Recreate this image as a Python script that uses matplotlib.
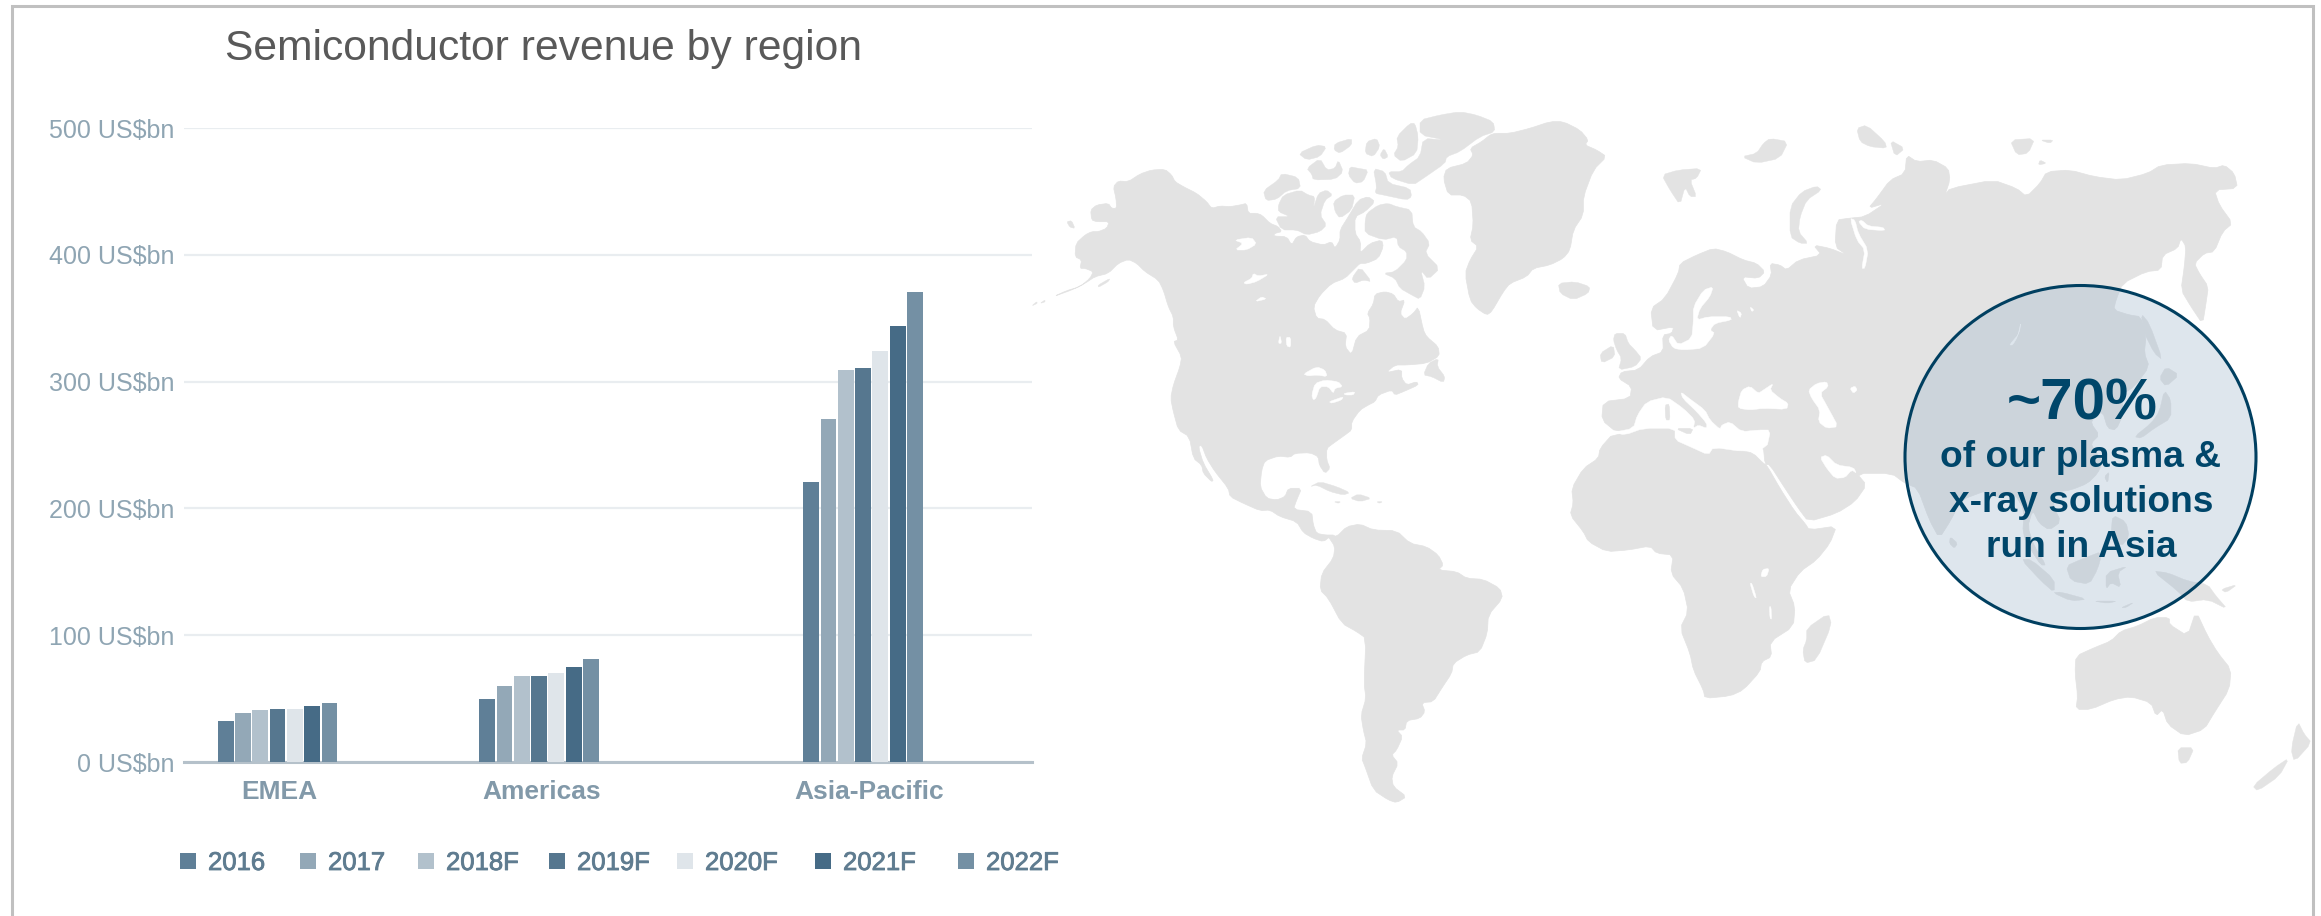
import numpy as np
import matplotlib
matplotlib.use('Agg')
import matplotlib.pyplot as plt
import matplotlib.patheffects as pe
from matplotlib.patches import Polygon, Ellipse, Rectangle

plt.rcParams['font.family'] = ['Liberation Sans', 'DejaVu Sans']

# %% chart data
regions = ['EMEA', 'Americas', 'Asia-Pacific']
years = ['2016', '2017', '2018F', '2019F', '2020F', '2021F', '2022F']
emea = [32.5, 39, 41, 41.5, 42, 44, 46.5]
americas = [50, 60, 68, 68, 70, 75, 81.5]
asia = [221, 270.5, 309, 311, 324, 344, 371]
yticks = [0, 100, 200, 300, 400, 500]
colors = ['#5f7f97', '#93a8b7', '#b2c1cc', '#56778f', '#dfe5ea', '#466b86', '#7490a4']

# layout, in pixels of the 2321x916 picture
group_x = [277.5, 539, 863]
label_x = [279, 542, 869]
legend_x = [180, 300, 418, 549, 677, 815, 958]

# %% map outlines, traced off crops: tile corner + crop coords / 3
def tile(x0, y0, pts):
    a = np.array(pts, dtype=float)
    return np.column_stack([x0 + a[:, 0] / 3, y0 + a[:, 1] / 3])

def na(pts):
    return tile(1030, 100, pts)

def eu(pts):
    return tile(1550, 100, pts)

def ea(pts):
    return tile(1801, 100, pts)

def sa(pts):
    return tile(1250, 500, pts)

def af(pts):
    return tile(1540, 420, pts)

def oc(pts):
    return tile(1921, 516, pts)

def soften(poly):
    # one pass of corner cutting so traced coasts look less angular
    nxt = np.roll(poly, -1, axis=0)
    out = np.empty((len(poly) * 2, 2))
    out[0::2] = 0.8 * poly + 0.2 * nxt
    out[1::2] = 0.2 * poly + 0.8 * nxt
    return out

north_america = na([(70, 590), (110, 572), (150, 560), (180, 535), (190, 515), (165, 505), (150, 505), (155, 480),
    (135, 470), (138, 430), (165, 405), (185, 395), (205, 395), (230, 385), (238, 365), (200, 365), (185, 360),
    (182, 330), (200, 315), (235, 310), (245, 325), (260, 325), (258, 295), (250, 260), (265, 243), (295, 245),
    (330, 222), (365, 210), (405, 208), (425, 225), (435, 245), (460, 260), (500, 280), (530, 305), (545, 325),
    (570, 318), (600, 320), (630, 315), (650, 310), (655, 340), (680, 340), (695, 345), (720, 370), (745, 380),
    (755, 395), (735, 400), (730, 408), (770, 410), (785, 435), (800, 410), (825, 405), (840, 425), (880, 435),
    (905, 425), (915, 445), (930, 420), (930, 390), (955, 350), (985, 300), (1015, 290), (1035, 305), (1005, 335),
    (975, 350), (975, 400), (992, 425), (990, 460), (1020, 430), (1055, 420), (1060, 440), (1045, 475), (1010, 490),
    (990, 490), (975, 505), (945, 535), (905, 550), (870, 585), (850, 620), (860, 655), (885, 658), (915, 690),
    (950, 700), (945, 740), (965, 765), (980, 710), (1018, 690), (1020, 655), (1012, 640), (1030, 612), (1035, 582),
    (1065, 575), (1090, 582), (1105, 605), (1125, 600), (1110, 640), (1125, 658), (1150, 640), (1165, 620),
    (1180, 690), (1190, 710), (1225, 740), (1228, 768), (1190, 790), (1130, 795), (1095, 795), (1068, 818),
    (1115, 808), (1115, 835), (1130, 855), (1160, 845), (1165, 855), (1120, 875), (1095, 885), (1085, 870),
    (1045, 885), (1035, 905), (1015, 915), (990, 930), (965, 965), (965, 990), (945, 1005), (910, 1030), (890, 1045),
    (890, 1080), (900, 1105), (885, 1120), (868, 1095), (865, 1070), (840, 1058), (795, 1060), (780, 1072),
    (745, 1068), (705, 1082), (695, 1110), (690, 1160), (710, 1195), (740, 1200), (765, 1190), (775, 1165),
    (815, 1165), (800, 1200), (790, 1228), (845, 1235), (850, 1275), (860, 1300), (885, 1305), (915, 1305),
    (925, 1325), (900, 1310), (880, 1325), (850, 1315), (820, 1298), (800, 1265), (750, 1250), (720, 1230),
    (690, 1232), (640, 1210), (600, 1190), (595, 1165), (555, 1115), (530, 1075), (515, 1035), (505, 1040),
    (520, 1090), (550, 1140), (545, 1145), (520, 1120), (515, 1095), (490, 1075), (478, 1010), (445, 990), (430, 935),
    (422, 895), (430, 855), (450, 800), (455, 770), (430, 725), (445, 720), (430, 680), (430, 650), (415, 620),
    (400, 570), (385, 540), (345, 515), (320, 490), (295, 478), (265, 490), (235, 520), (195, 530), (165, 550),
    (130, 568)])

south_america = sa([(230, 110), (260, 110), (290, 80), (330, 72), (370, 90), (440, 92), (480, 130), (530, 140),
    (565, 165), (580, 195), (565, 210), (620, 215), (650, 235), (700, 238), (750, 265), (758, 295), (715, 345),
    (712, 400), (690, 455), (650, 465), (610, 490), (605, 520), (575, 565), (550, 605), (515, 608), (525, 635),
    (510, 655), (470, 662), (465, 690), (440, 690), (458, 710), (440, 750), (425, 765), (445, 790), (425, 830),
    (430, 860), (470, 890), (440, 908), (415, 900), (370, 870), (345, 800), (335, 775), (350, 730), (340, 690),
    (333, 645), (348, 595), (342, 550), (348, 415), (320, 395), (275, 370), (235, 295), (210, 270), (215, 220),
    (250, 175), (255, 140), (235, 110)])

greenland = np.vstack([
    na([(1380, 105), (1355, 125), (1320, 145), (1330, 165), (1310, 190), (1250, 205), (1240, 235), (1255, 285),
        (1300, 285), (1325, 305), (1330, 375), (1320, 420), (1345, 440), (1320, 480), (1305, 520), (1320, 600),
        (1340, 625), (1370, 645), (1385, 635), (1420, 575), (1440, 550), (1490, 530), (1510, 505), (1560, 495)]),
    eu([(40, 475), (60, 450), (70, 390), (100, 345), (100, 290), (130, 210), (170, 170), (140, 150), (105, 135),
        (115, 120), (90, 90), (40, 65), (0, 65)]),
    na([(1500, 85), (1440, 100), (1395, 100)])])

eurasia = np.vstack([
    eu([(160, 905), (240, 895), (245, 860), (205, 835), (215, 815), (265, 810), (300, 770), (340, 755), (338, 705),
        (365, 700), (372, 680), (310, 692), (302, 625), (345, 595), (385, 520), (390, 490), (440, 465), (490, 445),
        (530, 455), (580, 480), (620, 490), (645, 515), (625, 535), (575, 530), (595, 565), (640, 560), (665, 525),
        (660, 490), (690, 495), (710, 510), (745, 480), (815, 465), (790, 435), (840, 445), (890, 465), (855, 440),
        (860, 360), (895, 355), (945, 350), (1005, 310), (955, 325), (980, 295), (1020, 240), (1065, 220), (1070, 165),
        (1100, 185), (1150, 180), (1195, 205), (1200, 240), (1185, 285), (1200, 265), (1330, 240), (1400, 265),
        (1430, 290), (1470, 250), (1490, 215), (1560, 210)]),
    ea([(880, 230), (960, 240), (1040, 220), (1080, 195), (1170, 190), (1240, 205), (1270, 195), (1300, 220),
        (1310, 265), (1240, 270), (1255, 315), (1295, 370), (1265, 395), (1240, 455), (1210, 460), (1180, 490),
        (1195, 520), (1222, 560), (1215, 610), (1205, 672), (1170, 620), (1140, 570), (1150, 500), (1155, 440),
        (1140, 415), (1130, 445), (1085, 465), (1080, 510), (1035, 515), (965, 550), (945, 600), (938, 630), (985, 645),
        (1020, 650), (1035, 710), (1030, 760), (1045, 800), (1000, 860), (960, 885), (968, 940), (945, 990), (920, 985),
        (905, 935), (880, 950), (870, 970), (895, 1005), (870, 1030), (880, 1050), (905, 1085), (890, 1120), (860, 1150),
        (810, 1170), (770, 1175), (755, 1215), (780, 1265), (745, 1290), (715, 1270), (695, 1230), (680, 1280),
        (700, 1340), (735, 1395), (720, 1395), (690, 1350), (665, 1300), (670, 1230), (640, 1180), (590, 1195),
        (560, 1170), (480, 1200), (450, 1260), (415, 1315), (385, 1260), (350, 1165)]),
    eu([(1065, 1150), (1025, 1120), (920, 1120), (950, 1155), (915, 1205), (860, 1240), (775, 1265), (745, 1225),
        (705, 1165), (660, 1095), (645, 1092), (640, 1040), (600, 1015), (380, 1015), (380, 1000), (200, 997),
        (155, 960)])])

africa = af([(220, 40), (180, 85), (175, 115), (130, 145), (95, 205), (100, 250), (90, 285), (130, 335), (145, 365),
    (200, 395), (265, 390), (330, 378), (350, 400), (400, 405), (392, 460), (430, 505), (445, 575), (420, 625),
    (450, 700), (460, 750), (490, 810), (495, 835), (570, 828), (610, 810), (660, 755), (665, 725), (695, 710),
    (690, 665), (760, 620), (765, 560), (745, 510), (780, 455), (830, 420), (870, 370), (890, 318), (808, 330),
    (795, 310), (765, 275), (720, 205), (680, 135), (670, 130), (640, 100), (600, 90), (500, 60), (400, 30)])

australia = oc([(465, 420), (520, 395), (570, 375), (600, 345), (650, 330), (700, 305), (745, 305), (745, 325),
    (800, 360), (825, 285), (860, 360), (890, 410), (930, 460), (925, 520), (880, 590), (850, 640), (790, 660),
    (740, 625), (725, 580), (705, 600), (690, 560), (630, 542), (580, 550), (510, 580), (465, 580), (470, 540),
    (462, 470)])

continents = [north_america, south_america, greenland, eurasia, africa, australia]

water = [
    # Mediterranean, Black Sea, Caspian, Aral
    eu([(190, 997), (225, 1005), (280, 985), (375, 985), (375, 1020), (420, 1040), (475, 1065), (490, 1042), (580, 1055),
        (650, 1045), (662, 990), (625, 990), (575, 995), (540, 965), (515, 975), (510, 988), (480, 960), (465, 930),
        (420, 897), (392, 875), (398, 895), (440, 935), (470, 970), (470, 985), (445, 975), (430, 985), (435, 960),
        (400, 925), (350, 890), (290, 905), (262, 945), (250, 985)]),
    eu([(565, 905), (575, 870), (600, 858), (625, 880), (640, 870), (670, 850), (660, 870), (690, 895), (715, 910),
        (710, 928), (640, 925), (600, 930), (565, 925)]),
    eu([(775, 870), (800, 850), (830, 845), (835, 860), (810, 880), (835, 925), (865, 980), (830, 985), (805, 965),
        (810, 930), (785, 895)]),
    eu([(900, 865), (915, 858), (922, 870), (910, 880)]),
    # Persian Gulf, Baltic, Ob, Yenisei, Ladoga, Onega
    eu([(810, 1072), (830, 1065), (860, 1095), (910, 1102), (920, 1120), (905, 1110), (885, 1133), (855, 1135),
        (830, 1105)]),
    eu([(460, 570), (490, 560), (480, 590), (450, 625), (440, 660), (475, 650), (540, 650), (545, 660), (495, 670),
        (480, 690), (495, 700), (460, 745), (400, 750), (370, 745), (355, 720), (365, 705), (385, 735), (425, 715),
        (430, 665), (430, 620)]),
    eu([(900, 355), (920, 420), (945, 450), (935, 505), (945, 505), (955, 450), (925, 400), (915, 360)]),
    eu([(925, 365), (945, 388), (1005, 392), (1000, 382), (955, 378), (935, 360)]),
    eu([(560, 630), (575, 640), (570, 655)]),
    eu([(600, 620), (612, 630), (605, 635)]),
    # Baikal
    ea([(625, 735), (655, 700), (660, 665), (650, 710), (635, 735)]),
    # African lakes
    af([(662, 470), (668, 448), (688, 445), (680, 470)]),
    af([(630, 490), (636, 490), (650, 535), (642, 530)]),
    af([(688, 560), (693, 560), (695, 598), (690, 595)]),
    # North American lakes and Foxe Basin
    na([(820, 822), (860, 800), (885, 810), (892, 830), (860, 825), (835, 828)]),
    na([(855, 850), (885, 840), (925, 845), (938, 860), (915, 865), (910, 880), (895, 860), (870, 860), (858, 895),
        (850, 900), (845, 885)]),
    na([(897, 905), (940, 890), (935, 900), (905, 910)]),
    na([(942, 880), (975, 875), (970, 885), (945, 885)]),
    na([(612, 420), (665, 412), (680, 432), (650, 450), (615, 450), (640, 430)]),
    na([(640, 548), (665, 535), (670, 520), (685, 528), (718, 522), (680, 545), (650, 553)]),
    na([(675, 605), (695, 590), (710, 597)]),
    na([(750, 705), (755, 730), (745, 730)]),
    na([(768, 712), (782, 712), (782, 742), (770, 738)]),
]

islands = [
    # Canadian Arctic
    na([(700, 272), (745, 240), (755, 220), (805, 232), (812, 265), (770, 272), (740, 298), (708, 302)]),
    na([(745, 315), (760, 285), (810, 270), (835, 285), (855, 290), (850, 325), (865, 280), (890, 270), (908, 285),
        (885, 300), (870, 345), (890, 375), (870, 395), (830, 405), (800, 390), (755, 390), (735, 350), (780, 350),
        (745, 335)]),
    na([(805, 160), (860, 135), (890, 140), (870, 170), (830, 180)]),
    na([(830, 205), (870, 175), (890, 210), (915, 205), (925, 180), (940, 215), (915, 238), (850, 240), (845, 222)]),
    na([(915, 130), (965, 115), (965, 135), (930, 160), (912, 150)]),
    na([(1170, 60), (1230, 45), (1290, 35), (1340, 45), (1390, 65), (1395, 95), (1350, 110), (1290, 155), (1250, 170),
        (1245, 190), (1180, 235), (1150, 255), (1085, 235), (1075, 215), (1115, 215), (1135, 195), (1170, 170),
        (1180, 115), (1245, 120), (1170, 105)]),
    na([(1100, 110), (1140, 70), (1155, 70), (1165, 110), (1160, 160), (1115, 185), (1090, 165), (1105, 140)]),
    na([(1010, 125), (1040, 115), (1050, 140), (1030, 170), (1005, 160)]),
    na([(1050, 165), (1062, 145), (1075, 170), (1060, 178)]),
    na([(960, 200), (985, 205), (1015, 210), (1000, 245), (975, 250), (955, 225)]),
    na([(1040, 260), (1030, 205), (1065, 215), (1075, 250), (1140, 265), (1145, 290), (1130, 300), (1060, 285),
        (1035, 280)]),
    na([(910, 305), (940, 285), (975, 285), (965, 330), (930, 355), (915, 335)]),
    na([(1005, 365), (1010, 340), (1045, 315), (1075, 310), (1100, 320), (1145, 330), (1150, 380), (1175, 395),
        (1200, 430), (1185, 460), (1230, 505), (1195, 538), (1172, 510), (1185, 560), (1170, 598), (1145, 585),
        (1110, 565), (1095, 535), (1060, 520), (1095, 515), (1130, 480), (1130, 455), (1105, 440), (1100, 410),
        (1060, 420), (1005, 400)]),
    na([(965, 535), (990, 500), (1025, 545), (1000, 540), (975, 550)]),
    # Newfoundland, Caribbean, Alaska
    na([(1180, 825), (1195, 790), (1225, 775), (1222, 800), (1245, 830), (1240, 848), (1205, 830)]),
    na([(840, 1160), (870, 1145), (920, 1160), (960, 1178), (940, 1185), (900, 1175), (860, 1155)]),
    na([(960, 1195), (985, 1182), (1025, 1195), (990, 1205)]),
    na([(912, 1205), (932, 1205), (925, 1210)]),
    na([(1040, 1205), (1058, 1205), (1048, 1210)]),
    na([(5, 618), (20, 605), (22, 610)]),
    na([(30, 610), (45, 600), (45, 606)]),
    na([(110, 365), (125, 362), (135, 385), (120, 382)]),
    na([(205, 555), (240, 535), (235, 545), (205, 562)]),
    # Europe and the Arctic
    eu([(195, 700), (225, 700), (235, 730), (255, 750), (275, 775), (255, 800), (205, 810), (215, 775), (200, 750),
        (190, 720)]),
    eu([(150, 760), (190, 735), (195, 770), (155, 790)]),
    eu([(25, 550), (75, 545), (120, 560), (115, 580), (70, 600), (30, 580)]),
    eu([(335, 225), (385, 210), (455, 205), (440, 235), (420, 240), (440, 290), (420, 290), (405, 260), (390, 315),
        (360, 270)]),
    eu([(575, 170), (620, 160), (640, 130), (660, 115), (715, 125), (690, 175), (620, 190)]),
    eu([(720, 410), (720, 320), (755, 275), (800, 258), (815, 270), (770, 300), (750, 350), (745, 395), (775, 430),
        (750, 430)]),
    eu([(920, 85), (950, 75), (1005, 125), (1010, 145), (960, 140), (930, 125)]),
    eu([(1020, 120), (1065, 145), (1035, 170)]),
    eu([(1380, 120), (1455, 115), (1435, 160), (1400, 165)]),
    eu([(1470, 120), (1510, 120), (1500, 130)]),
    eu([(1470, 180), (1490, 190), (1465, 195)]),
    eu([(345, 915), (358, 912), (360, 960), (347, 960)]),
    eu([(375, 985), (430, 985), (420, 1005)]),
    # Japan and neighbours
    ea([(1020, 640), (1045, 670), (1085, 780), (1060, 760), (1030, 700)]),
    ea([(1075, 835), (1095, 800), (1135, 825), (1095, 860)]),
    ea([(1000, 1010), (1050, 970), (1075, 935), (1090, 870), (1110, 900), (1110, 955), (1060, 985), (1020, 1015)]),
    ea([(910, 1130), (925, 1115), (920, 1150)]),
    ea([(935, 1245), (975, 1265), (985, 1310), (960, 1340), (930, 1300)]),
    ea([(448, 1310), (470, 1330), (460, 1345), (445, 1330)]),
    # Indonesia, New Guinea, Oceania
    oc([(435, 150), (480, 130), (545, 105), (530, 160), (505, 205), (450, 195)]),
    oc([(555, 170), (620, 150), (590, 170), (600, 215), (570, 200), (555, 220)]),
    oc([(300, 130), (330, 130), (400, 190), (400, 230), (360, 195)]),
    oc([(395, 230), (420, 228), (500, 250), (450, 255)]),
    oc([(515, 255), (590, 255), (560, 262)]),
    oc([(600, 275), (640, 258), (615, 275)]),
    oc([(695, 165), (740, 170), (800, 195), (860, 205), (885, 240), (920, 280), (860, 250), (800, 258), (770, 225)]),
    oc([(900, 220), (950, 205), (915, 230)]),
    oc([(770, 695), (820, 695), (800, 740), (775, 742)]),
    oc([(1130, 615), (1150, 655), (1172, 680), (1120, 738), (1110, 700)]),
    oc([(995, 810), (1060, 755), (1105, 725), (1075, 780), (1010, 825)]),
    af([(800, 625), (865, 580), (875, 615), (830, 720), (795, 730), (788, 690), (800, 660)]),
]

# %% figure
W, H = 2321, 916
fig = plt.figure(figsize=(W / 100, H / 100), dpi=100, facecolor='white')

# full page axes in picture pixels for map, frame and callout
page = fig.add_axes([0, 0, 1, 1], zorder=0)
page.set_xlim(0, W)
page.set_ylim(H, 0)
page.axis('off')

land = '#e3e3e3'
for poly in continents:
    page.add_patch(Polygon(soften(poly), closed=True, fc=land, ec=land, lw=0.5, zorder=1))
for poly in water:
    page.add_patch(Polygon(soften(poly), closed=True, fc='white', ec='white', lw=0.3, zorder=2))
for poly in islands:
    page.add_patch(Polygon(soften(poly), closed=True, fc=land, ec=land, lw=0.3, zorder=3))

# frame, open at the bottom
page.plot([12, 12, 2313, 2313], [916, 6, 6, 916], color='#c0c0c0', lw=2.2, zorder=4, solid_joinstyle='miter')

# callout
page.add_patch(Ellipse((2080.5, 457), 351, 343, fc=(0.631, 0.722, 0.804, 0.34), ec='#003f60', lw=2.2, zorder=5))
navy = '#00466a'
page.text(2082, 419, '~70%', fontsize=42, fontweight='bold', color=navy, ha='center', va='baseline', zorder=6)
page.text(2081, 467, 'of our plasma &', fontsize=26.7, fontweight='bold', color=navy, ha='center', va='baseline', zorder=6)
page.text(2081, 512.5, 'x-ray solutions', fontsize=26.7, fontweight='bold', color=navy, ha='center', va='baseline', zorder=6)
page.text(2081, 557, 'run in Asia', fontsize=26.7, fontweight='bold', color=navy, ha='center', va='baseline', zorder=6)

page.text(225, 60, 'Semiconductor revenue by region', fontsize=30.7, color='#595959', ha='left', va='baseline', zorder=6)

# bar chart
left, right, top, bottom = 184, 1032, 128, 762
ax = fig.add_axes([left / W, 1 - bottom / H, (right - left) / W, (bottom - top) / H], zorder=1)
ax.patch.set_alpha(0)
ax.set_xlim(left, right)
ax.set_ylim(0, 500)

pitch = 17.3
values = np.array([emea, americas, asia])
for i, year in enumerate(years):
    ax.bar(np.array(group_x) + (i - 3) * pitch, values[:, i], width=15.8, color=colors[i], zorder=3)

ax.set_yticks(yticks)
ax.set_yticklabels(['%d US$bn' % v for v in yticks], fontsize=18, color='#8fa5b3')
ax.set_xticks(label_x)
ax.set_xticklabels(regions, fontsize=19, fontweight='bold', color='#8299a9')
ax.tick_params(axis='y', length=0, pad=7)
ax.tick_params(axis='x', length=0, pad=13)
ax.grid(axis='y', color='#e9edf0', lw=1.6, zorder=0)
ax.set_axisbelow(True)
for s in ['top', 'left', 'right']:
    ax.spines[s].set_visible(False)
ax.spines['bottom'].set_color('#b5c1ca')
ax.spines['bottom'].set_linewidth(2.2)

# legend, spacing in the picture is uneven so it is placed by hand
heavier = [pe.withStroke(linewidth=0.6, foreground='#5f7c90')]
for x, year, c in zip(legend_x, years, colors):
    page.add_patch(Rectangle((x, 853), 16, 16, fc=c, ec='none', zorder=6))
    page.text(x + 28, 870, year, fontsize=18.5, color='#5f7c90', ha='left', va='baseline', zorder=6,
              path_effects=heavier)

fig.savefig('out.png', dpi=100)
